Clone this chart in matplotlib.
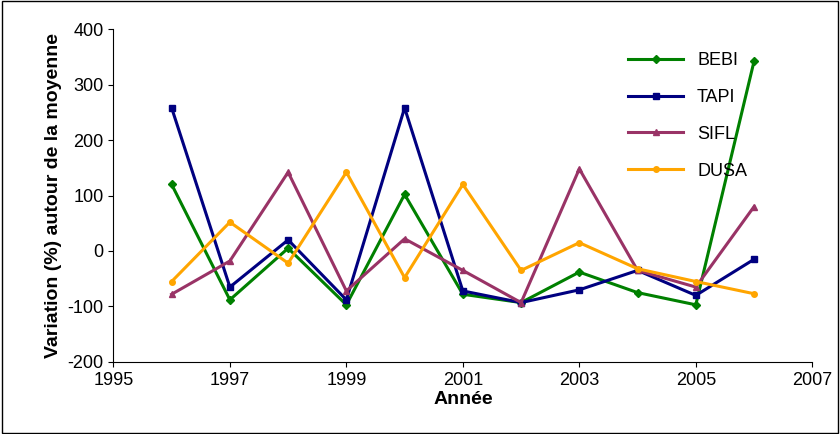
import matplotlib.pyplot as plt

plt.rcParams['font.family'] = ['Liberation Sans', 'DejaVu Sans']
plt.rcParams['axes.unicode_minus'] = False

annees = list(range(1996, 2007))
bebi = [120, -88, 5, -97, 102, -78, -93, -38, -75, -97, 342]
tapi = [258, -65, 20, -88, 258, -72, -93, -70, -35, -80, -15]
sifl = [-78, -18, 142, -72, 22, -35, -93, 148, -35, -65, 80]
dusa = [-55, 52, -22, 142, -48, 120, -35, 15, -32, -55, -77]

fig = plt.figure(figsize=(8.4, 4.34), dpi=100)
ax = fig.add_axes([0.135, 0.166, 0.832, 0.767])

ax.plot(annees, bebi, color='#008000', marker='D', ms=4, lw=2.2, label='BEBI')
ax.plot(annees, tapi, color='#000080', marker='s', ms=4, lw=2.2, label='TAPI')
ax.plot(annees, sifl, color='#993366', marker='^', ms=5, lw=2.2, label='SIFL')
ax.plot(annees, dusa, color='#FFA500', marker='o', ms=4, lw=2.2, label='DUSA')

ax.set_xlim(1995, 2007)
ax.set_ylim(-200, 400)
ax.set_xticks(range(1995, 2008, 2))
ax.set_yticks(range(-200, 401, 100))
ax.tick_params(labelsize=13)
ax.set_xlabel('Année', fontsize=14, fontweight='bold', labelpad=2)
ax.set_ylabel('Variation (%) autour de la moyenne', fontsize=14, fontweight='bold')
for s in ['top', 'right']:
    ax.spines[s].set_visible(False)

ax.legend(loc='upper right', frameon=False, fontsize=13, handlelength=3,
          labelspacing=1.1, bbox_to_anchor=(0.93, 0.98))

fig.patches.append(plt.Rectangle((0.002, 0.002), 0.996, 0.996, transform=fig.transFigure,
                                 fill=False, edgecolor='black', lw=1))
fig.savefig('out.png')
